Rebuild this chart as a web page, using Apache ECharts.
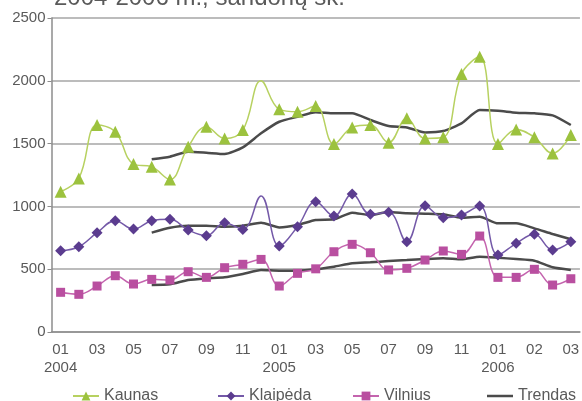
<!DOCTYPE html>
<html lang="lt">
<head>
	<meta charset="UTF-8">
	<title>Sandoriai</title>
	<style>
		html,body{margin:0;padding:0;background:#fff;}
		#main{width:582px;height:401px;}
	</style>
</head>
<body>
	<div id="main"></div>
	<script src="https://cdn.jsdelivr.net/npm/echarts@6/dist/echarts.min.js"></script>
	<script>
		// 2004-01 .. 29 months
		var months = [];
		for (var i = 0; i < 29; i++) { months.push('m' + i); }
		var xLabels = ['01\n2004','03','05','07','09','11','01\n2005','03','05','07','09','11','01\n2006','02','03'];

		var kaunas = [1117,1223,1648,1594,1337,1316,1215,1475,1634,1541,1608,2000,1773,1754,1799,1496,1629,1648,1507,1701,1541,1550,2054,2191,1496,1613,1550,1422,1568];
		var klaipeda = [647,679,791,886,820,886,897,812,767,870,817,1083,685,838,1037,923,1098,937,953,719,1005,910,931,1003,613,706,778,653,719];
		var vilnius = [316,300,366,448,382,419,414,480,435,512,539,578,366,467,503,639,698,631,494,507,573,645,618,764,435,435,499,374,424];

		// trend lines start at the 6th month
		var trendKaunas = ['-','-','-','-','-',1375,1396,1435,1427,1417,1470,1582,1674,1714,1750,1741,1741,1688,1640,1629,1589,1600,1661,1767,1761,1746,1741,1725,1648];
		var trendKlaipeda = ['-','-','-','-','-',791,830,846,846,838,846,870,833,852,892,897,950,931,955,945,942,937,910,918,865,865,825,780,738];
		var trendVilnius = ['-','-','-','-','-',374,380,414,427,435,462,494,488,488,499,520,547,555,565,573,581,587,579,599,591,581,568,515,494];

		var chart = echarts.init(document.getElementById('main'));
		var txt = '#5a5a5a';

		// in the original the 2004-12 peaks have no marker
		function cityLine(name, data, symbol, size, lineColor, markColor, hideAt) {
			var d = data.map(function (v, idx) {
				return idx === hideAt ? {value: v, symbol: 'none'} : v;
			});
			return {
				name: name, type: 'line', data: d, smooth: 0.4,
				symbol: symbol, symbolSize: size,
				lineStyle: {color: lineColor, width: 1.5},
				itemStyle: {color: markColor},
				z: 3
			};
		}
		function trendLine(data) {
			return {
				name: 'Trendas', type: 'line', data: data, smooth: 0.2,
				symbol: 'none',
				lineStyle: {color: '#4b4b4b', width: 2.5},
				itemStyle: {color: '#4b4b4b'},
				z: 2
			};
		}
		function legendAt(name, left) {
			return {
				data: [name], left: left, top: 383,
				itemWidth: 26, itemHeight: 11, itemGap: 8,
				textStyle: {color: txt, fontSize: 16, fontFamily: 'Liberation Sans'}
			};
		}
		var trendLegend = legendAt('Trendas', 482);
		trendLegend.icon = 'rect';
		trendLegend.itemHeight = 2.5;

		chart.setOption({
			animation: false,
			title: {
				text: '2004-2006 m., sandorių sk.',
				left: 49, top: -19,
				textStyle: {color: txt, fontSize: 24, fontWeight: 'normal', fontFamily: 'Liberation Sans'}
			},
			legend: [
				legendAt('Kaunas', 67),
				legendAt('Klaipėda', 212),
				legendAt('Vilnius', 347),
				trendLegend
			],
			grid: {left: 51.5, right: -7.5, top: 18, bottom: 69},
			xAxis: {
				type: 'category',
				data: months,
				boundaryGap: true,
				axisLine: {lineStyle: {color: '#8c8c8c', width: 1.5}},
				axisTick: {interval: 0, length: 5, lineStyle: {color: '#8c8c8c'}},
				axisLabel: {
					interval: 1, color: txt, fontSize: 15, lineHeight: 18, margin: 9,
					fontFamily: 'Liberation Sans',
					formatter: function (v, idx) { return xLabels[idx / 2]; }
				}
			},
			yAxis: {
				type: 'value', min: 0, max: 2500, interval: 500,
				axisLine: {show: true, lineStyle: {color: '#8c8c8c', width: 1.5}},
				axisTick: {show: true, length: 4, lineStyle: {color: '#8c8c8c'}},
				axisLabel: {
					color: txt, fontSize: 15, margin: 6, fontFamily: 'Liberation Sans',
					formatter: function (v) { return String(v); }
				},
				splitLine: {lineStyle: {color: '#a6a6a6', width: 1.5}}
			},
			series: [
				cityLine('Kaunas', kaunas, 'triangle', 12, '#b7d160', '#9cc23e', 11),
				cityLine('Klaipėda', klaipeda, 'diamond', 11, '#7459a8', '#5b3c8f', 11),
				cityLine('Vilnius', vilnius, 'rect', 9, '#c464ae', '#b94fa0', -1),
				trendLine(trendKaunas),
				trendLine(trendKlaipeda),
				trendLine(trendVilnius)
			]
		});
	</script>
</body>
</html>
